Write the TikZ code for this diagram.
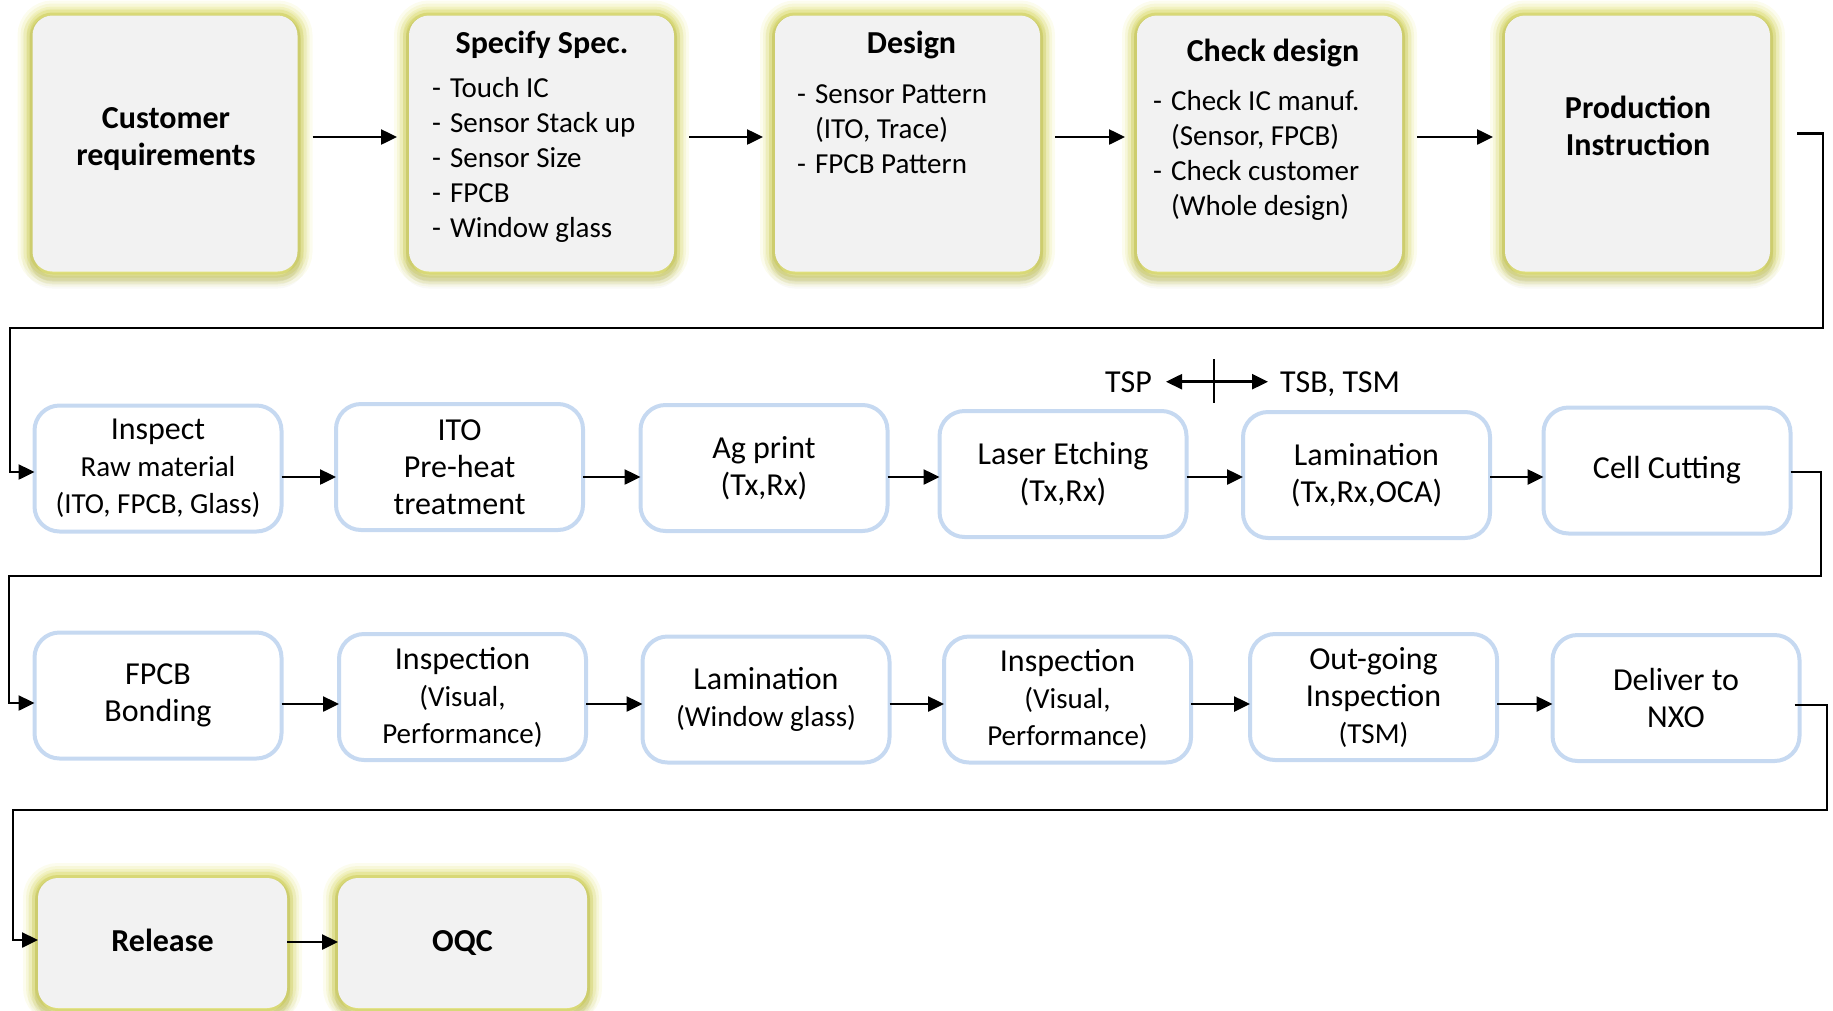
\documentclass[tikz,border=0pt]{standalone}
\usepackage{fontspec}
\setmainfont{Carlito}
\usetikzlibrary{arrows.meta,backgrounds,calc}
\definecolor{boxfill}{HTML}{F2F2F2}
\definecolor{glowc}{RGB}{222,222,90}
\definecolor{shadc}{RGB}{110,110,40}
\definecolor{blueb}{RGB}{198,217,241}
\tikzset{
  topbox/.style={fill=boxfill, draw=none, rounded corners=20pt, inner sep=0pt, outer sep=0pt, minimum width=265pt, minimum height=256pt},
  botbox/.style={topbox, minimum width=249pt, minimum height=130pt, text height=21pt, text depth=5pt, font=\fontsize{32}{37}\selectfont\bfseries},
  bluebox/.style={draw=blueb, line width=4pt, fill=white, rounded corners=25pt, inner sep=0pt, outer sep=0pt, minimum width=247pt, minimum height=126pt, align=center, font=\fontsize{32}{37}\selectfont},
  hd/.style={inner sep=0pt, font=\fontsize{32}{37}\selectfont\bfseries},
  lst/.style={inner sep=0pt, font=\fontsize{29}{35}\selectfont},
  plain/.style={inner sep=0pt, font=\fontsize{32}{37}\selectfont},
  arr/.style={line width=2.5pt, -{Triangle[length=16pt,width=15pt]}},
  dblarr/.style={line width=2.5pt, {Triangle[length=16pt,width=15pt]}-{Triangle[length=16pt,width=15pt]}},
  ln/.style={line width=2.5pt}
}
\newcommand{\sm}[1]{{\fontsize{29}{37}\selectfont #1}}
\begin{document}
\begin{tikzpicture}[x=1pt,y=-1pt]
\useasboundingbox (0,0) rectangle (1833,1010);
% top row
\node[topbox] (s1) at (165,143.5) {};
\node[topbox] (s2) at (541.5,143.5) {};
\node[topbox] (s3) at (907.5,143.5) {};
\node[topbox] (s4) at (1269.5,143.5) {};
\node[topbox] (s5) at (1637.5,143.5) {};
\node[hd, anchor=base] (s1t) at (166,128) {\begin{tabular}[t]{@{}c@{}}Customer\\requirements\end{tabular}};
\node[hd, anchor=base] (s2h) at (542,53) {Specify Spec.};
\node[lst, anchor=base west] (s2l) at (432,97) {\begin{tabular}[t]{@{}l@{\hspace{9pt}}l@{}}-&Touch IC\\-&Sensor Stack up\\-&Sensor Size\\-&FPCB\\-&Window glass\end{tabular}};
\node[hd, anchor=base] (s3h) at (911.5,53) {Design};
\node[lst, anchor=base west] (s3l) at (797,103) {\begin{tabular}[t]{@{}l@{\hspace{9pt}}l@{}}-&Sensor Pattern\\&(ITO, Trace)\\-&FPCB Pattern\end{tabular}};
\node[hd, anchor=base] (s4h) at (1273,61) {Check design};
\node[lst, anchor=base west] (s4l) at (1153,110) {\begin{tabular}[t]{@{}l@{\hspace{9pt}}l@{}}-&Check IC manuf.\\&(Sensor, FPCB)\\-&Check customer\\&(Whole design)\end{tabular}};
\node[hd, anchor=base] (s5t) at (1638,118) {\begin{tabular}[t]{@{}c@{}}Production\\Instruction\end{tabular}};
% row 2
\node[bluebox] (i1) at (158,468.5) {Inspect\\\sm{Raw material}\\\sm{(ITO, FPCB, Glass)}};
\node[bluebox] (i2) at (459.5,467) {ITO\\Pre-heat\\treatment};
\node[bluebox] (i3) at (764,468) {Ag print\\(Tx,Rx)};
\node[bluebox] (i4) at (1063,474) {Laser Etching\\(Tx,Rx)};
\node[bluebox] (i5) at (1366.5,475) {Lamination\\(Tx,Rx,OCA)};
\node[bluebox] (i6) at (1667,470.5) {Cell Cutting};
% TSP label
\node[plain, anchor=base east] (tsp) at (1152,392) {TSP};
\node[plain, anchor=base west] (tsb) at (1280,392) {TSB, TSM};
\draw[dblarr, shorten <=14pt, shorten >=12pt] (tsp.east) -- (tsp.east -| tsb.west);
\coordinate (tick) at (1214,381);
\draw[ln] ([yshift=22pt]tick) -- ([yshift=-22pt]tick);
% row 3
\node[bluebox] (j1) at (158,695.5) {FPCB\\Bonding};
\node[bluebox] (j2) at (462.5,697) {Inspection\\\sm{(Visual,}\\\sm{Performance)}};
\node[bluebox] (j3) at (766,699.5) {Lamination\\\sm{(Window glass)}};
\node[bluebox] (j4) at (1067.5,699.5) {Inspection\\\sm{(Visual,}\\\sm{Performance)}};
\node[bluebox] (j5) at (1373.5,697) {Out-going\\Inspection\\\sm{(TSM)}};
\node[bluebox] (j6) at (1676,698) {Deliver to\\NXO};
% row 4
\node[botbox] (k1) at (162.5,943) {Release};
\node[botbox] (k2) at (462.5,943) {OQC};
% glow behind the grey boxes
\begin{scope}[on background layer]
\foreach \n in {s1,s2,s3,s4,s5,k1,k2}{
  \foreach \w/\o in {30/0.1,24/0.14,18/0.2,12/0.3,6/0.45}{
    \draw[glowc, opacity=\o, line width=\w pt, rounded corners=20pt] (\n.south west) rectangle (\n.north east);
  }
  \foreach \w/\o in {20/0.04,12/0.07,6/0.1}{
    \draw[shadc, opacity=\o, line width=\w pt, rounded corners=20pt] ([yshift=-7pt]\n.south west) rectangle ([yshift=-3pt]\n.north east);
  }
}
\end{scope}
% top row arrows
\coordinate (ty) at (0,137);
\draw[arr, shorten <=15pt, shorten >=12pt] (s1.east |- ty) -- (s2.west |- ty);
\draw[arr, shorten <=15pt, shorten >=12pt] (s2.east |- ty) -- (s3.west |- ty);
\draw[arr, shorten <=15pt, shorten >=12pt] (s3.east |- ty) -- (s4.west |- ty);
\draw[arr, shorten <=15pt, shorten >=12pt] (s4.east |- ty) -- (s5.west |- ty);
% row 2 arrows
\coordinate (y2) at (0,477);
\draw[arr] (i1.east |- y2) -- (i2.west |- y2);
\draw[arr] (i2.east |- y2) -- (i3.west |- y2);
\draw[arr] (i3.east |- y2) -- (i4.west |- y2);
\draw[arr] (i4.east |- y2) -- (i5.west |- y2);
\draw[arr] (i5.east |- y2) -- (i6.west |- y2);
% row 3 arrows
\coordinate (y3) at (0,704);
\draw[arr] (j1.east |- y3) -- (j2.west |- y3);
\draw[arr] (j2.east |- y3) -- (j3.west |- y3);
\draw[arr] (j3.east |- y3) -- (j4.west |- y3);
\draw[arr] (j4.east |- y3) -- (j5.west |- y3);
\draw[arr] (j5.east |- y3) -- (j6.west |- y3);
% row 4 arrow
\coordinate (y4) at (0,942);
\draw[arr] (k1.east |- y4) -- (k2.west |- y4);
% wrap-around connectors
\coordinate (r1a) at (1823,328);
\coordinate (r1b) at (10,328);
\draw[arr, line join=miter] ([xshift=27pt,yshift=10pt]s5.east) -| (r1a) -- (r1b) |- ([yshift=-3.5pt]i1.west);
\coordinate (r2a) at (1821,576);
\coordinate (r2b) at (9,576);
\draw[arr, line join=miter] ([yshift=-1.5pt]i6.east) -| (r2a) -- (r2b) |- ([yshift=-7.5pt]j1.west);
\coordinate (r3a) at (1827,810);
\coordinate (r3b) at (13,810);
\draw[arr, line join=miter] ([xshift=-5pt,yshift=-7pt]j6.east) -| (r3a) -- (r3b) |- ([yshift=3pt]k1.west);
\end{tikzpicture}
\end{document}
